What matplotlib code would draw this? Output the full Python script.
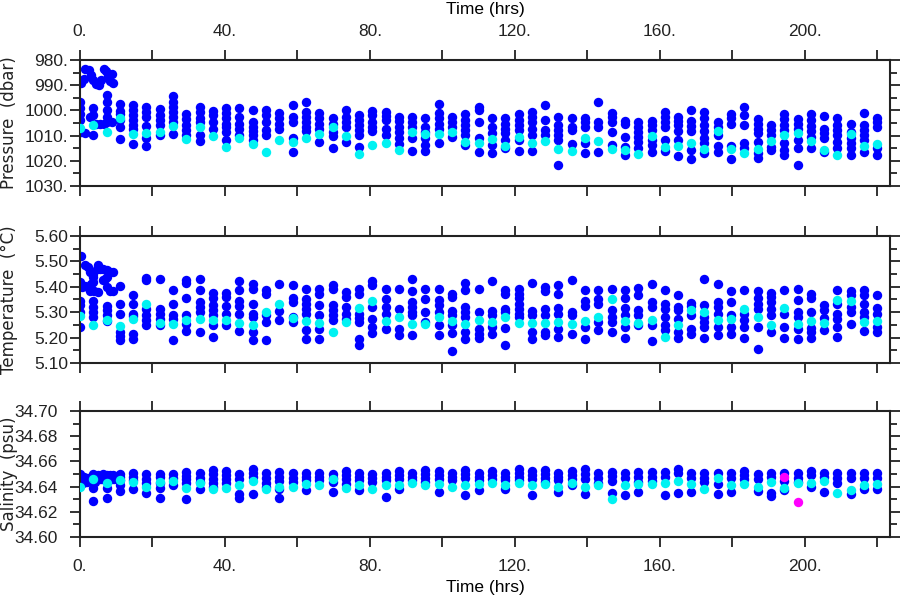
import numpy as np
import matplotlib
matplotlib.use("Agg")
import matplotlib.pyplot as plt
from matplotlib.ticker import MultipleLocator, FuncFormatter

plt.rcParams['font.family'] = ['Liberation Sans', 'DejaVu Sans']

BLUE = '#0000ff'
CYAN = '#00f2f2'
MAGENTA = '#ff00ff'

# sample times of the regular profiles (hrs)
col_times = [11.0, 14.7, 18.3, 22.0, 25.7, 29.3, 33.0, 36.7, 40.3, 44.0, 47.7, 51.3,
             55.0, 58.7, 62.3, 66.0, 69.7, 73.3, 77.0, 80.7, 84.3, 88.0, 91.7, 95.3,
             99.0, 102.7, 106.3, 110.0, 113.7, 117.3, 121.0, 124.7, 128.3, 132.0, 135.7, 139.3,
             143.0, 146.7, 150.3, 154.0, 157.7, 161.3, 165.0, 168.7, 172.3, 176.0, 179.7, 183.3,
             187.0, 190.7, 194.3, 198.0, 201.7, 205.3, 209.0, 212.7, 216.3, 220.0]

# ---- pressure (dbar)
p_blue = [
    [997.6, 1000.3, 1001.6, 1003.8, 1006.5, 1011.4],
    [997.9, 999.9, 1001.9, 1003.8, 1005.8, 1007.4, 1013.5],
    [998.5, 1000.5, 1002.5, 1006.1, 1011.1, 1014.0],
    [999.6, 1001.9, 1003.8, 1005.8, 1009.8],
    [994.2, 996.5, 998.5, 1000.5, 1002.5, 1004.5, 1009.4],
    [1001.5, 1003.6, 1005.8, 1007.8, 1009.8],
    [998.5, 1000.5, 1003.2, 1004.5, 1009.8, 1012.2],
    [1000.3, 1001.9, 1004.5, 1007.4],
    [999.2, 1001.2, 1003.2, 1005.2, 1006.5, 1008.5, 1011.8],
    [998.9, 1002.5, 1005.2, 1007.4, 1009.8],
    [999.9, 1004.5, 1006.5, 1008.2, 1009.8, 1011.8],
    [999.9, 1001.9, 1004.5, 1007.8, 1009.8],
    [1001.2, 1003.2, 1005.2, 1007.2],
    [997.9, 1002.5, 1004.5, 1011.1, 1016.4],
    [996.6, 1000.8, 1002.5, 1004.5, 1006.5, 1008.2],
    [1001.2, 1003.2, 1005.2, 1007.2, 1012.7],
    [1002.9, 1005.2, 1008.7, 1010.1, 1014.8],
    [999.9, 1002.5, 1004.5, 1006.5, 1012.7],
    [1001.9, 1003.8, 1005.8, 1007.8, 1009.8, 1014.4],
    [1000.3, 1001.9, 1004.5, 1006.5, 1008.2],
    [1000.5, 1002.1, 1003.8, 1007.2, 1009.8],
    [1002.5, 1004.2, 1006.5, 1008.7, 1011.1, 1013.5],
    [1002.5, 1004.5, 1006.5, 1011.1, 1016.2],
    [1002.9, 1006.5, 1008.5, 1011.1, 1013.8, 1016.2],
    [997.5, 1001.2, 1003.2, 1005.2, 1007.2, 1013.1],
    [1002.5, 1004.5, 1006.5, 1010.5],
    [1001.6, 1003.8, 1005.8, 1007.8, 1009.8, 1013.8],
    [998.5, 999.9, 1004.5, 1011.1, 1016.4],
    [1003.2, 1006.5, 1009.1, 1013.8, 1017.1],
    [1003.2, 1005.2, 1007.2, 1009.1, 1011.8, 1015.1],
    [1001.6, 1003.8, 1005.8, 1007.8, 1011.8, 1016.2],
    [1000.5, 1002.5, 1004.5, 1007.2, 1009.8, 1016.2],
    [997.9, 1003.8, 1007.8, 1009.8],
    [1002.8, 1005.8, 1007.8, 1009.8, 1011.8, 1021.7],
    [1002.9, 1006.5, 1007.8, 1013.5],
    [1002.9, 1004.5, 1006.5, 1013.1, 1016.8],
    [996.6, 1004.5, 1006.5, 1016.4],
    [1000.9, 1002.5, 1004.5, 1008.5, 1013.8],
    [1004.2, 1005.2, 1010.5, 1014.4, 1017.7],
    [1004.8, 1006.5, 1008.5, 1010.5, 1012.5, 1015.1],
    [1004.2, 1005.8, 1007.8, 1011.8, 1013.8, 1016.7],
    [1000.5, 1002.5, 1004.5, 1006.5, 1011.8, 1016.2],
    [1002.5, 1004.2, 1005.8, 1008.2, 1011.8, 1018.1],
    [999.9, 1004.2, 1006.1, 1008.2, 1015.8, 1019.1],
    [1000.8, 1002.9, 1005.8, 1008.2, 1010.8, 1013.1, 1016.8],
    [1004.5, 1006.5, 1009.8, 1014.0, 1016.7],
    [1001.6, 1003.2, 1005.2, 1014.0, 1019.1],
    [998.5, 1001.9, 1005.8, 1013.1, 1015.1],
    [1003.4, 1005.2, 1007.2, 1009.1, 1012.5, 1017.1, 1018.8],
    [1005.8, 1007.8, 1009.8, 1014.4, 1015.8],
    [1001.6, 1003.4, 1005.8, 1007.8, 1013.1, 1015.8, 1017.5],
    [1003.4, 1005.2, 1007.2, 1011.8, 1015.1, 1021.7],
    [1001.6, 1003.8, 1006.1, 1008.2, 1010.5, 1015.1],
    [1002.1, 1007.2, 1009.1, 1011.1, 1016.7],
    [1003.2, 1005.8, 1007.8, 1009.8, 1012.5, 1014.8],
    [1005.2, 1008.5, 1011.1, 1013.1, 1015.1, 1017.7],
    [1001.2, 1005.8, 1007.8, 1009.8, 1011.8, 1016.4],
    [1002.9, 1004.5, 1006.5, 1015.1, 1017.5],
]
p_cyan = [1002.9, 1009.5, 1009.1, 1008.7, 1006.2, 1011.5, 1006.6, 1010.2, 1014.7, 1011.1,
          1013.5, 1016.7, 1011.8, 1012.7, 1011.1, 1009.4, 1006.5, 1010.1, 1017.4, 1013.8,
          1013.1, 1015.8, 1008.7, 1009.5, 1009.4, 1008.5, 1012.7, 1013.1, 1011.4, 1014.0,
          1010.5, 1013.1, 1012.1, 1015.4, 1016.2, 1011.1, 1012.1, 1015.4, 1015.8, 1017.4,
          1010.1, 1014.4, 1014.0, 1013.1, 1015.4, 1008.2, 1015.4, 1017.1, 1015.4, 1012.2,
          1009.8, 1009.1, 1012.2, 1015.8, 1017.5, 1009.5, 1014.0, 1013.5]

# first hours: dense sampling
p0_t = [0.3, 1.0, 1.5, 2.5, 3.0, 3.7, 4.5, 5.2, 5.8, 6.5, 7.3, 7.8, 8.3, 8.8, 9.2,
        0.0, 0.0, 0.0, 0.0, 0.4, 1.3, 2.8, 3.7, 3.7, 3.7, 4.5, 5.5, 6.5,
        7.4, 7.4, 7.4, 7.4, 7.4, 8.7]
p0_v = [989.0, 987.5, 983.5, 984.0, 986.0, 988.0, 989.5, 990.0, 988.0, 983.5, 984.5, 986.5, 988.5, 985.5, 989.0,
        996.5, 999.0, 1001.5, 1004.0, 1008.7, 1008.8, 1002.5, 999.0, 1002.0, 1009.8, 1005.5, 1005.5, 1005.5,
        994.0, 996.5, 1000.0, 1002.5, 1004.5, 1004.5]
p0_cyan_t = [0.0, 3.7, 7.4]
p0_cyan_v = [1007.0, 1005.8, 1008.4]

# ---- temperature (deg C)
t_blue = [
    [5.402, 5.334, 5.294, 5.222, 5.205, 5.189],
    [5.369, 5.334, 5.294, 5.285, 5.215, 5.193],
    [5.435, 5.426, 5.314, 5.288, 5.268, 5.249],
    [5.429, 5.314, 5.294, 5.275, 5.249],
    [5.386, 5.334, 5.290, 5.272, 5.189],
    [5.426, 5.416, 5.356, 5.290, 5.255, 5.225],
    [5.429, 5.386, 5.340, 5.320, 5.301, 5.222],
    [5.376, 5.356, 5.327, 5.307, 5.288, 5.249, 5.202],
    [5.376, 5.360, 5.324, 5.294, 5.249],
    [5.422, 5.386, 5.343, 5.324, 5.294, 5.225],
    [5.412, 5.393, 5.334, 5.294, 5.281, 5.222, 5.189],
    [5.386, 5.373, 5.288, 5.261, 5.189],
    [5.412, 5.303, 5.268],
    [5.408, 5.356, 5.340, 5.281, 5.261],
    [5.390, 5.353, 5.334, 5.314, 5.294, 5.229, 5.196],
    [5.390, 5.373, 5.327, 5.288, 5.235, 5.196],
    [5.406, 5.393, 5.327, 5.307, 5.288, 5.268],
    [5.380, 5.360, 5.320, 5.294, 5.275],
    [5.393, 5.373, 5.294, 5.277, 5.261, 5.196, 5.170],
    [5.422, 5.406, 5.320, 5.272, 5.242, 5.219],
    [5.390, 5.353, 5.320, 5.294, 5.235],
    [5.390, 5.311, 5.235, 5.209],
    [5.432, 5.382, 5.340, 5.320, 5.301, 5.288, 5.212],
    [5.390, 5.353, 5.301, 5.261],
    [5.390, 5.347, 5.330, 5.301, 5.249, 5.212],
    [5.373, 5.360, 5.303, 5.288, 5.249, 5.219, 5.147],
    [5.415, 5.386, 5.320, 5.301, 5.281, 5.222, 5.196],
    [5.390, 5.301, 5.235, 5.215, 5.198],
    [5.422, 5.303, 5.288, 5.242, 5.215],
    [5.386, 5.373, 5.314, 5.301, 5.239, 5.170],
    [5.390, 5.373, 5.356, 5.334, 5.314, 5.294, 5.281],
    [5.416, 5.303, 5.288, 5.222, 5.196],
    [5.399, 5.382, 5.311, 5.290, 5.222, 5.209],
    [5.406, 5.373, 5.317, 5.294, 5.235, 5.202],
    [5.426, 5.301, 5.288, 5.215],
    [5.386, 5.343, 5.324, 5.242, 5.196],
    [5.386, 5.353, 5.334, 5.261, 5.229],
    [5.390, 5.307, 5.281, 5.261, 5.222],
    [5.386, 5.356, 5.317, 5.288, 5.242, 5.198],
    [5.395, 5.366, 5.307, 5.288, 5.249],
    [5.412, 5.340, 5.320, 5.249, 5.185],
    [5.386, 5.334, 5.314, 5.281, 5.249, 5.229],
    [5.366, 5.320, 5.307, 5.272, 5.222, 5.198],
    [5.337, 5.324, 5.288, 5.235, 5.215],
    [5.432, 5.330, 5.281, 5.261, 5.242, 5.198],
    [5.412, 5.340, 5.320, 5.294, 5.242, 5.212],
    [5.382, 5.340, 5.288, 5.242, 5.215],
    [5.386, 5.294, 5.268, 5.242, 5.198],
    [5.382, 5.356, 5.334, 5.314, 5.242, 5.156],
    [5.376, 5.360, 5.340, 5.314, 5.288, 5.222],
    [5.386, 5.294, 5.242, 5.198],
    [5.393, 5.347, 5.301, 5.281, 5.235, 5.196],
    [5.373, 5.356, 5.301, 5.239, 5.222, 5.198],
    [5.330, 5.307, 5.277, 5.229],
    [5.386, 5.334, 5.294, 5.272, 5.242, 5.202],
    [5.382, 5.366, 5.320, 5.301, 5.255],
    [5.386, 5.366, 5.334, 5.301, 5.281, 5.225],
    [5.369, 5.317, 5.294, 5.242, 5.222],
]
t_cyan = [5.246, 5.272, 5.334, 5.259, 5.255, 5.268, 5.275, 5.268, 5.268, 5.259,
          5.251, 5.301, 5.334, 5.277, 5.264, 5.259, 5.222, 5.261, 5.317, 5.343,
          5.264, 5.281, 5.252, 5.255, 5.281, 5.264, 5.255, 5.268, 5.261, 5.281,
          5.259, 5.259, 5.258, 5.261, 5.255, 5.264, 5.281, 5.351, 5.264, 5.259,
          5.268, 5.202, 5.251, 5.307, 5.301, 5.268, 5.272, 5.311, 5.281, 5.249,
          5.317, 5.255, 5.264, 5.259, 5.347, 5.343, 5.261, 5.264]

t0_t = [0.2, 1.4, 2.3, 2.8, 3.7, 4.6, 5.1, 5.5, 6.4, 7.4, 8.3, 9.2,
        0.5, 1.4, 2.3, 2.8, 3.0, 3.5, 4.0, 5.0, 6.4, 7.0, 7.4, 8.3, 9.2, 3.7, 7.4, 0.0,
        0.0, 0.0, 0.0, 0.0, 3.7, 3.7, 3.7, 3.7, 7.4, 7.4, 7.4, 7.4]
t0_v = [5.520, 5.485, 5.478, 5.458, 5.450, 5.470, 5.485, 5.470, 5.470, 5.465, 5.458, 5.458,
        5.400, 5.405, 5.400, 5.385, 5.410, 5.418, 5.385, 5.380, 5.425, 5.430, 5.400, 5.385, 5.385, 5.440, 5.440, 5.420,
        5.345, 5.330, 5.300, 5.240, 5.345, 5.320, 5.300, 5.280, 5.325, 5.310, 5.290, 5.265]
t0_cyan_t = [0.0, 3.7, 7.4]
t0_cyan_v = [5.286, 5.250, 5.270]

# ---- salinity (psu)
s_blue = [
    [34.650, 34.6474, 34.645, 34.641, 34.6365],
    [34.6505, 34.648, 34.645, 34.638],
    [34.650, 34.6457, 34.643, 34.635],
    [34.650, 34.6474, 34.643, 34.639, 34.6307],
    [34.650, 34.647, 34.641],
    [34.6516, 34.6484, 34.6457, 34.6426, 34.630],
    [34.6505, 34.647, 34.644, 34.6384],
    [34.6532, 34.650, 34.6463, 34.643, 34.640],
    [34.6524, 34.649, 34.6457, 34.6426],
    [34.650, 34.6457, 34.6339, 34.6312],
    [34.6537, 34.651, 34.648, 34.634],
    [34.6505, 34.647, 34.643, 34.640],
    [34.6516, 34.648, 34.6445, 34.638, 34.6307],
    [34.6505, 34.647, 34.6436],
    [34.651, 34.648, 34.645, 34.637],
    [34.651, 34.648, 34.645],
    [34.650, 34.647, 34.644, 34.636],
    [34.652, 34.649, 34.646, 34.642],
    [34.651, 34.648, 34.645, 34.637],
    [34.650, 34.647, 34.644],
    [34.651, 34.648, 34.645, 34.632],
    [34.652, 34.649, 34.646, 34.638],
    [34.651, 34.648, 34.645],
    [34.653, 34.650, 34.647, 34.644],
    [34.652, 34.649, 34.646, 34.636],
    [34.651, 34.648, 34.645],
    [34.653, 34.650, 34.647, 34.633],
    [34.651, 34.648, 34.645, 34.637],
    [34.652, 34.649, 34.646],
    [34.651, 34.648, 34.645, 34.638],
    [34.654, 34.651, 34.648, 34.645],
    [34.652, 34.649, 34.646, 34.633],
    [34.653, 34.650, 34.647, 34.644],
    [34.651, 34.648, 34.645, 34.636],
    [34.652, 34.649, 34.646, 34.641],
    [34.6542, 34.650, 34.6457, 34.6339],
    [34.6505, 34.647, 34.643],
    [34.6516, 34.6484, 34.6445, 34.635],
    [34.6505, 34.647, 34.633],
    [34.6516, 34.648, 34.6436, 34.6357],
    [34.6516, 34.648, 34.6445],
    [34.6516, 34.648, 34.633],
    [34.6537, 34.6505, 34.635],
    [34.6505, 34.647, 34.6357],
    [34.6505, 34.647, 34.6436],
    [34.651, 34.6418, 34.634],
    [34.6505, 34.647, 34.6357],
    [34.6524, 34.649, 34.6457],
    [34.650, 34.6457, 34.6365],
    [34.651, 34.648, 34.635, 34.6325],
    [34.651, 34.6445, 34.6373],
    [34.6505, 34.647, 34.6436],
    [34.6524, 34.649, 34.640],
    [34.651, 34.648, 34.6357],
    [34.6505, 34.647, 34.6426],
    [34.6505, 34.647, 34.634],
    [34.6505, 34.647, 34.6378],
    [34.6505, 34.647, 34.6384],
]
s_cyan = [34.645, 34.644, 34.640, 34.644, 34.6445, 34.639, 34.6431, 34.638, 34.639, 34.641,
          34.6445, 34.638, 34.640, 34.640, 34.642, 34.641, 34.646, 34.639, 34.641, 34.638,
          34.641, 34.641, 34.643, 34.641, 34.642, 34.640, 34.641, 34.642, 34.643, 34.641,
          34.643, 34.641, 34.642, 34.640, 34.643, 34.640, 34.641, 34.6304, 34.641, 34.6418,
          34.6418, 34.643, 34.6445, 34.6418, 34.6384, 34.6466, 34.641, 34.6418, 34.640, 34.644,
          34.639, 34.643, 34.6426, 34.6445, 34.6347, 34.6373, 34.641, 34.6418]
s_bad_t = [194.3, 198.0]
s_bad_v = [34.6479, 34.6278]

s0_t = [0.0, 0.0, 0.0, 0.7, 1.4, 2.3, 2.8, 3.7, 3.7, 4.6, 5.1, 5.5, 6.4, 6.9, 7.4, 7.8,
        8.3, 8.8, 9.2, 9.5, 3.7, 3.7, 7.4, 7.4, 1.0, 2.0, 4.2, 6.0]
s0_v = [34.650, 34.647, 34.644, 34.643, 34.6457, 34.647, 34.645, 34.650, 34.643, 34.647,
        34.649, 34.646, 34.650, 34.648, 34.649, 34.645, 34.649, 34.646, 34.649, 34.646,
        34.639, 34.6286, 34.639, 34.6307, 34.648, 34.644, 34.644, 34.646]
s0_cyan_t = [0.0, 3.7, 7.4]
s0_cyan_v = [34.640, 34.6457, 34.643]


def flatten(times, cols):
    xs, ys = [], []
    for t, vals in zip(times, cols):
        xs += [t] * len(vals)
        ys += list(vals)
    return xs, ys


fig = plt.figure(figsize=(9, 6), dpi=100)
left, width = 80 / 900, 810 / 900
ax_p = fig.add_axes([left, 1 - 186 / 600, width, 126 / 600])
ax_t = fig.add_axes([left, 1 - 363 / 600, width, 127 / 600])
ax_s = fig.add_axes([left, 1 - 537 / 600, width, 126 / 600])

ms = 46
panels = [
    (ax_p, p_blue, p_cyan, p0_t, p0_v, p0_cyan_t, p0_cyan_v),
    (ax_t, t_blue, t_cyan, t0_t, t0_v, t0_cyan_t, t0_cyan_v),
    (ax_s, s_blue, s_cyan, s0_t, s0_v, s0_cyan_t, s0_cyan_v),
]
for ax, blue, cyan, bt, bv, ct, cv in panels:
    x, y = flatten(col_times, blue)
    ax.scatter(x, y, s=ms, c=BLUE, linewidths=0, zorder=2)
    ax.scatter(bt, bv, s=ms, c=BLUE, linewidths=0, zorder=2)
    ax.scatter(col_times, cyan, s=ms, c=CYAN, linewidths=0, zorder=3)
    ax.scatter(ct, cv, s=ms, c=CYAN, linewidths=0, zorder=3)
ax_s.scatter(s_bad_t, s_bad_v, s=ms, c=MAGENTA, linewidths=0, zorder=4)

ylab = dict(fontsize=12, family=['DejaVu Sans'], color='#222222')

ax_p.set_ylim(1030, 980)
ax_p.yaxis.set_major_locator(MultipleLocator(10))
ax_p.yaxis.set_minor_locator(MultipleLocator(5))
ax_p.yaxis.set_major_formatter(FuncFormatter(lambda v, pos: f"{v:.0f}."))
ax_p.set_ylabel("Pressure  (dbar)", **ylab)

ax_t.set_ylim(5.10, 5.60)
ax_t.yaxis.set_major_locator(MultipleLocator(0.1))
ax_t.yaxis.set_minor_locator(MultipleLocator(0.05))
ax_t.yaxis.set_major_formatter(FuncFormatter(lambda v, pos: f"{v:.2f}"))
ax_t.set_ylabel("Temperature  (°C)", **ylab)

ax_s.set_ylim(34.60, 34.70)
ax_s.yaxis.set_major_locator(MultipleLocator(0.02))
ax_s.yaxis.set_minor_locator(MultipleLocator(0.01))
ax_s.yaxis.set_major_formatter(FuncFormatter(lambda v, pos: f"{v:.2f}"))
ax_s.set_ylabel("Salinity  (psu)", **ylab)

for ax in (ax_p, ax_t, ax_s):
    ax.set_xlim(0, 223.5)
    ax.xaxis.set_major_locator(MultipleLocator(40))
    ax.xaxis.set_minor_locator(MultipleLocator(20))
    ax.xaxis.set_major_formatter(FuncFormatter(lambda v, pos: f"{v:.0f}."))
    ax.tick_params(which='both', direction='out', top=True, right=True,
                   width=1.3, labelsize=12.5, colors='#222222')
    ax.tick_params(which='major', length=7)
    ax.tick_params(which='minor', length=5)
    ax.tick_params(axis='x', which='minor', length=7)
    ax.tick_params(axis='y', pad=1.5)
    ax.tick_params(axis='x', pad=8)
    ax.tick_params(labelbottom=False, labeltop=False)
    for sp in ax.spines.values():
        sp.set_linewidth(1.5)
        sp.set_color('#222222')
    ax.yaxis.set_label_coords(-0.077, 0.5)

ax_p.tick_params(labeltop=True)
ax_p.xaxis.set_label_position('top')
ax_p.set_xlabel("Time (hrs)", fontsize=12.5, labelpad=7)
ax_s.tick_params(labelbottom=True, pad=9)
ax_s.set_xlabel("Time (hrs)", fontsize=12.5, labelpad=4)

fig.savefig("out.png", dpi=100)
